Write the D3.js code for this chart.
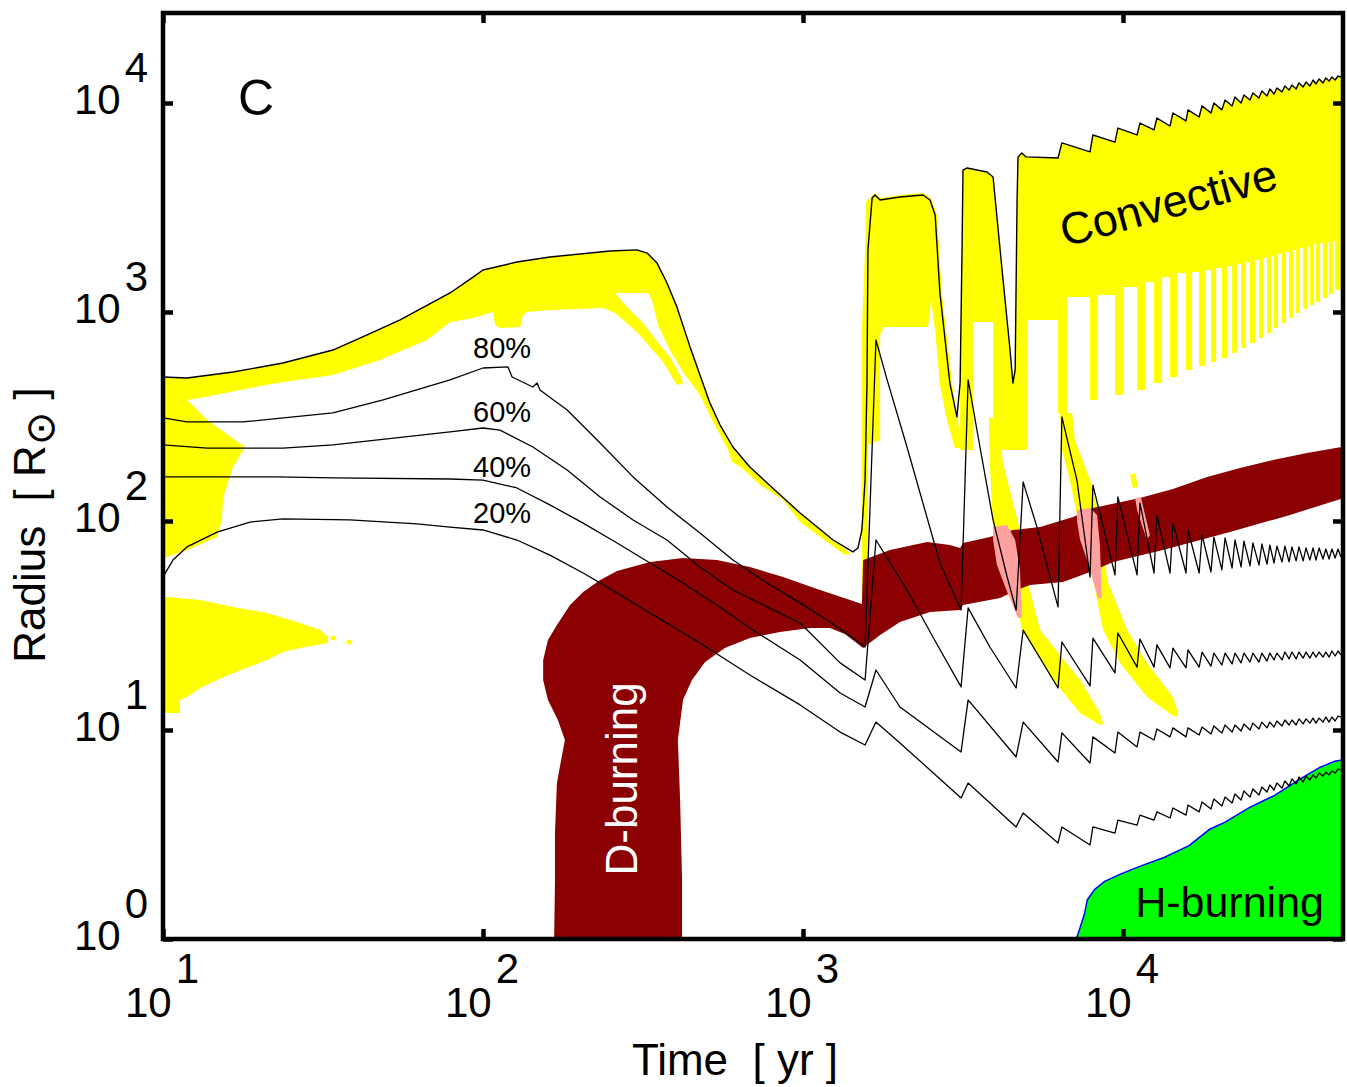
<!DOCTYPE html>
<html>
<head>
<meta charset="utf-8">
<script src="https://cdn.jsdelivr.net/npm/d3@7"></script>
<style>
  body { margin: 0; background: #fff; }
  svg { display: block; }
  text { font-family: "Liberation Sans", Arial, Helvetica, sans-serif; fill: #000; white-space: pre; }
</style>
</head>
<body>
<svg id="chart" width="1347" height="1087"></svg>
<script>
// All shape values are [log10(time / yr), log10(radius / R_sun)].

// Axis decades (exponents of the tick labels)
const xTickExps = [1, 2, 3, 4];
const yTickExps = [0, 1, 2, 3, 4];

// Accretion bursts: onset and peak-response times
const burstOnsetLogT = [3.194, 3.494, 3.666, 3.797, 3.897, 3.975, 4.044, 4.097, 4.147, 4.197, 4.238, 4.275, 4.309, 4.341, 4.369, 4.397, 4.425, 4.450, 4.472, 4.497, 4.519, 4.541, 4.563, 4.584, 4.603, 4.625, 4.644, 4.663];
const burstPeakLogT  = [3.228, 3.516, 3.688, 3.809, 3.906, 3.984, 4.053, 4.106, 4.156, 4.203, 4.247, 4.284, 4.319, 4.350, 4.378, 4.406, 4.434, 4.459, 4.481, 4.506, 4.528, 4.550, 4.572, 4.594, 4.613, 4.634, 4.653, 4.672];
const endLogT = 4.681;

// Stellar surface radius
const surfaceEarly = [[1.000,2.689],[1.075,2.684],[1.219,2.713],[1.375,2.756],[1.531,2.818],[1.638,2.890],[1.741,2.962],[1.897,3.091],[1.969,3.167],[2.000,3.201],[2.106,3.239],[2.209,3.263],[2.397,3.292],[2.481,3.297],[2.513,3.282],[2.544,3.234],[2.575,3.139],[2.606,3.024],[2.647,2.833],[2.678,2.699],[2.709,2.565],[2.741,2.459],[2.781,2.354],[2.834,2.258],[2.888,2.182],[2.991,2.038],[3.094,1.909],[3.156,1.852],[3.172,1.871],[3.184,1.957],[3.194,2.196],[3.200,2.660],[3.203,3.297],[3.216,3.545],[3.225,3.560],[3.241,3.536],[3.303,3.550],[3.375,3.560],[3.397,3.536],[3.413,3.464],[3.428,3.091],[3.459,2.660],[3.481,2.498],[3.491,2.660],[3.497,3.297],[3.500,3.679],[3.513,3.689],[3.575,3.670],[3.594,3.646],[3.616,3.297],[3.647,2.818],[3.656,2.660],[3.663,2.722],[3.669,3.536],[3.672,3.742],[3.684,3.761],[3.697,3.742]];
const surfacePre  = [3.737, 3.766, 3.813, 3.847, 3.871, 3.890, 3.914, 3.933, 3.952, 3.967, 3.986, 4.000, 4.014, 4.024, 4.033, 4.043, 4.053, 4.062, 4.067, 4.077, 4.081, 4.091, 4.096, 4.105, 4.110];
const surfacePeak = [3.809, 3.847, 3.880, 3.904, 3.928, 3.952, 3.967, 3.986, 4.000, 4.014, 4.029, 4.038, 4.048, 4.057, 4.067, 4.072, 4.081, 4.086, 4.096, 4.100, 4.110, 4.115, 4.120, 4.124, 4.129];
const surfaceEnd = 4.124;

// Mass shells (80%, 60%, 40%, 20% of the stellar mass)
const shell80Early = [[1.000,2.493],[1.075,2.474],[1.250,2.474],[1.531,2.517],[1.688,2.579],[1.897,2.675],[2.000,2.732],[2.078,2.737],[2.091,2.689],[2.156,2.641],[2.169,2.660],[2.178,2.627],[2.263,2.531],[2.366,2.373],[2.469,2.211],[2.575,2.067],[2.678,1.943],[2.781,1.813],[2.888,1.703],[2.991,1.608],[3.075,1.526],[3.147,1.450]];
const shell80Pre  = [1.397, 1.574, 1.574, 1.589, 1.732, 1.742, 1.742, 1.751, 1.751, 1.751, 1.751, 1.756, 1.766, 1.775, 1.780, 1.785, 1.789, 1.794, 1.799, 1.804, 1.804, 1.809, 1.809, 1.813, 1.813, 1.818, 1.818, 1.823];
const shell80Peak = [2.866, 2.675, 2.187, 2.498, 2.172, 2.115, 2.086, 2.029, 1.990, 1.957, 1.933, 1.923, 1.919, 1.909, 1.904, 1.895, 1.890, 1.885, 1.880, 1.880, 1.876, 1.876, 1.871, 1.871, 1.871, 1.866, 1.866, 1.866];
const shell80Decay = {0: [[3.262,2.680],[3.325,2.354],[3.428,1.799]], 1: [[3.553,2.354],[3.594,2.005],[3.638,1.732]], 2: [[3.731,1.971]], 3: [[3.856,2.196]]};
const shell80End = 1.828;

const shell60Early = [[1.000,2.364],[1.138,2.349],[1.375,2.349],[1.531,2.364],[1.897,2.426],[2.000,2.445],[2.053,2.435],[2.156,2.354],[2.263,2.244],[2.366,2.115],[2.469,2.005],[2.575,1.909],[2.678,1.780],[2.781,1.670],[2.888,1.589],[2.991,1.512],[3.116,1.321]];
const shell60Pre  = [1.239, 1.206, 1.201, 1.201, 1.211, 1.273, 1.301, 1.301, 1.297, 1.297, 1.301, 1.306, 1.311, 1.316, 1.321, 1.325, 1.325, 1.330, 1.335, 1.335, 1.340, 1.340, 1.344, 1.344, 1.349, 1.349, 1.349, 1.354];
const shell60Peak = [1.909, 1.584, 1.478, 1.421, 1.440, 1.464, 1.435, 1.407, 1.392, 1.383, 1.373, 1.368, 1.368, 1.368, 1.368, 1.368, 1.368, 1.368, 1.368, 1.373, 1.373, 1.373, 1.373, 1.373, 1.373, 1.373, 1.378, 1.378];
const shell60Decay = {0: [[3.325,1.670],[3.406,1.445]], 1: [[3.584,1.397]]};
const shell60End = 1.359;

const shell40Early = [[1.000,2.211],[1.356,2.211],[1.531,2.206],[1.897,2.201],[2.000,2.196],[2.106,2.158],[2.209,2.077],[2.313,1.990],[2.419,1.895],[2.522,1.799],[2.625,1.703],[2.731,1.598],[2.834,1.488],[2.991,1.335],[3.116,1.177]];
const shell40Pre  = [1.110, 0.895, 0.871, 0.847, 0.842, 0.890, 0.919, 0.952, 0.967, 0.967, 0.976, 0.981, 0.986, 0.990, 0.995, 1.000, 1.005, 1.010, 1.014, 1.019, 1.024, 1.024, 1.029, 1.033, 1.033, 1.038, 1.038, 1.043];
const shell40Peak = [1.287, 1.144, 1.038, 0.986, 0.967, 0.990, 0.990, 1.005, 1.010, 1.010, 1.014, 1.019, 1.024, 1.024, 1.029, 1.033, 1.038, 1.038, 1.043, 1.048, 1.048, 1.053, 1.053, 1.057, 1.057, 1.062, 1.062, 1.067];
const shell40Decay = {0: [[3.303,1.110]]};
const shell40End = 1.062;

const shell20Early = [[1.000,1.732],[1.031,1.813],[1.075,1.876],[1.169,1.947],[1.272,1.995],[1.375,2.010],[1.584,2.005],[1.794,1.986],[1.897,1.971],[2.000,1.957],[2.106,1.909],[2.209,1.837],[2.313,1.751],[2.419,1.656],[2.522,1.560],[2.678,1.416],[2.834,1.263],[2.991,1.120],[3.116,0.990]];
const shell20Pre  = [0.928, 0.675, 0.536, 0.459, 0.450, 0.507, 0.545, 0.569, 0.579, 0.593, 0.608, 0.622, 0.636, 0.651, 0.665, 0.679, 0.689, 0.703, 0.713, 0.722, 0.732, 0.742, 0.751, 0.761, 0.770, 0.780, 0.785, 0.794];
const shell20Peak = [1.038, 0.746, 0.603, 0.536, 0.536, 0.569, 0.593, 0.608, 0.627, 0.641, 0.656, 0.670, 0.679, 0.694, 0.708, 0.718, 0.727, 0.737, 0.746, 0.756, 0.766, 0.775, 0.780, 0.785, 0.794, 0.799, 0.804, 0.813];
const shell20Decay = {0: [[3.303,0.938]]};
const shell20End = 0.809;

const shellLabels = ["80%", "60%", "40%", "20%"];
const shellLabelPos = [[1.969,2.780],[1.969,2.474],[1.969,2.211],[1.969,1.990]];

// Convective zones
const convEarlyAccretion = [[1.000,2.689],[1.075,2.684],[1.219,2.713],[1.375,2.756],[1.531,2.818],[1.638,2.890],[1.741,2.962],[1.897,3.091],[1.969,3.167],[2.000,3.201],[2.106,3.239],[2.209,3.263],[2.397,3.292],[2.481,3.297],[2.513,3.282],[2.544,3.234],[2.575,3.139],[2.606,3.024],[2.647,2.833],[2.678,2.699],[2.709,2.565],[2.741,2.459],[2.781,2.354],[2.834,2.258],[2.888,2.182],[2.991,2.038],[3.094,1.909],[3.150,1.845],
  [3.131,1.837],[2.991,1.995],[2.938,2.100],[2.866,2.172],[2.809,2.254],[2.778,2.282],[2.766,2.340],[2.716,2.483],[2.678,2.603],[2.625,2.713],[2.584,2.818],[2.547,2.938],[2.528,3.057],[2.516,3.091],[2.413,3.091],
  [2.444,3.033],[2.500,2.947],[2.553,2.842],[2.584,2.785],[2.616,2.699],[2.625,2.660],
  [2.606,2.651],[2.563,2.761],[2.481,2.904],[2.413,2.995],[2.375,3.019],
  [2.209,3.010],[2.138,3.000],[2.125,2.986],[2.116,2.928],[2.053,2.923],[2.038,2.938],[2.031,3.000],[1.969,2.971],[1.897,2.952],[1.825,2.866],[1.678,2.770],[1.531,2.699],[1.356,2.660],[1.241,2.627],[1.116,2.589],[1.075,2.579],
  [1.138,2.483],[1.256,2.354],[1.219,2.258],[1.188,2.115],[1.184,2.005],[1.169,1.923],[1.075,1.861],[1.013,1.828],[1.000,1.828]];
const convCore = [[1.000,1.636],[1.013,1.636],[1.116,1.622],[1.219,1.589],[1.325,1.560],[1.428,1.512],[1.491,1.478],[1.516,1.445],[1.516,1.416],[1.428,1.392],[1.375,1.373],[1.325,1.335],[1.219,1.273],[1.169,1.239],[1.116,1.201],[1.075,1.158],[1.053,1.144],[1.053,1.081],[1.013,1.081],[1.000,1.081]];
const convCoreDrops = [[1.531,1.440],[1.581,1.421]];
const convBurst1 = [[3.184,1.574],[3.184,2.914],[3.194,3.297],[3.197,3.526],[3.216,3.555],[3.225,3.569],[3.241,3.545],[3.303,3.560],[3.375,3.569],[3.400,3.545],[3.419,3.464],[3.434,3.091],[3.466,2.660],[3.484,2.483],[3.494,2.349],[3.475,2.349],[3.450,2.483],[3.428,2.651],[3.413,2.914],[3.400,3.057],[3.391,2.928],[3.253,2.928],[3.241,2.890],[3.241,2.388],[3.203,2.364],[3.203,1.574]];
const convEnvelopeBase = [[3.491,2.340],[3.531,2.340],[3.531,2.952],[3.594,2.952],[3.594,2.340],[3.700,2.340],[3.700,2.962],[3.794,2.962]];
const convStripEndLogT = [3.825, 3.919, 4.000, 4.069, 4.122, 4.169, 4.216, 4.256, 4.291, 4.325, 4.356, 4.384, 4.413, 4.438, 4.463, 4.484, 4.509, 4.531, 4.553, 4.575, 4.597, 4.616, 4.638, 4.656, 4.700];
const convStripBottom  = [2.517, 2.579, 2.603, 2.627, 2.660, 2.689, 2.722, 2.742, 2.761, 2.780, 2.804, 2.828, 2.852, 2.876, 2.900, 2.923, 2.947, 2.971, 2.995, 3.014, 3.033, 3.048, 3.067, 3.086, 3.105];
const convFingerTop    = [3.072, 3.081, 3.120, 3.144, 3.167, 3.187, 3.191, 3.201, 3.211, 3.220, 3.230, 3.239, 3.249, 3.258, 3.268, 3.278, 3.287, 3.297, 3.306, 3.316, 3.325, 3.330, 3.335, 3.340, 3.344];
const convStreak1 = [[3.581,2.493],[3.584,2.278],[3.594,1.957],[3.631,1.789],[3.656,1.718],[3.684,1.478],[3.781,1.239],[3.866,1.081],[3.928,1.024],[3.938,1.029],[3.928,1.081],[3.866,1.239],[3.741,1.478],[3.700,1.718],[3.678,1.957],[3.625,2.278],[3.609,2.493]];
const convStreak2 = [[3.803,2.517],[3.809,2.340],[3.834,2.196],[3.866,1.957],[3.906,1.718],[3.938,1.478],[3.991,1.321],[4.075,1.158],[4.153,1.072],[4.169,1.062],[4.172,1.086],[4.156,1.158],[4.075,1.321],[4.013,1.478],[3.950,1.718],[3.938,1.957],[3.897,2.196],[3.850,2.388],[3.841,2.517]];
const convDash = [[4.022,2.220],[4.038,2.230],[4.047,2.163],[4.031,2.158]];

// Deuterium-burning zone
const dBurning = [[2.222,-0.03],[2.225,0.282],[2.225,0.507],[2.231,0.746],[2.247,0.880],[2.256,0.952],[2.234,1.048],[2.203,1.144],[2.188,1.239],[2.188,1.335],[2.203,1.431],[2.231,1.502],[2.272,1.598],[2.313,1.660],[2.366,1.718],[2.419,1.761],[2.522,1.804],[2.625,1.823],[2.731,1.813],[2.834,1.780],[2.938,1.732],[3.044,1.675],[3.147,1.622],[3.184,1.603],
  [3.188,1.813],[3.272,1.861],[3.388,1.900],[3.459,1.885],[3.491,1.871],[3.500,1.895],[3.584,1.923],[3.656,1.957],[3.741,1.971],[3.844,2.019],[3.906,2.062],[4.053,2.110],[4.156,2.153],[4.263,2.211],[4.366,2.254],[4.469,2.292],[4.575,2.325],[4.700,2.358],
  [4.700,2.115],[4.522,2.029],[4.334,1.947],[4.125,1.861],[3.969,1.804],[3.897,1.756],[3.813,1.708],[3.709,1.694],[3.669,1.670],[3.616,1.632],[3.500,1.598],[3.491,1.574],[3.397,1.565],[3.303,1.517],[3.241,1.455],[3.188,1.392],
  [3.131,1.459],[3.084,1.488],[3.022,1.488],[2.928,1.469],[2.834,1.440],[2.756,1.392],[2.694,1.325],[2.653,1.239],[2.625,1.144],[2.609,0.952],[2.616,0.665],[2.622,0.282],[2.622,-0.03]];
// Overlap of convection and D-burning
const dBurningConvective = [
  [[3.594,1.971],[3.638,1.981],[3.663,1.909],[3.678,1.766],[3.684,1.536],[3.672,1.536],[3.638,1.660],[3.606,1.789],[3.594,1.909]],
  [[3.856,2.053],[3.897,2.062],[3.919,2.029],[3.928,1.885],[3.934,1.632],[3.922,1.632],[3.906,1.718],[3.888,1.813],[3.866,1.909],[3.856,2.005]],
  [[4.038,2.110],[4.056,2.115],[4.069,2.029],[4.084,1.933],[4.075,1.909],[4.059,1.981],[4.044,2.053]]
];

// Hydrogen-burning zone (upper boundary)
const hBurningTop = [[3.850,-0.03],[3.866,0.043],[3.881,0.115],[3.891,0.187],[3.913,0.234],[3.944,0.273],[3.991,0.306],[4.053,0.344],[4.131,0.388],[4.209,0.445],[4.272,0.522],[4.319,0.555],[4.397,0.627],[4.475,0.684],[4.553,0.761],[4.616,0.818],[4.663,0.847],[4.700,0.858]];

// ---------------------------------------------------------------
const plot = { left: 163, right: 1343, top: 13, bottom: 939 };
const x = d3.scaleLog().domain([10, 48700]).range([plot.left, plot.right]);
const y = d3.scaleLog().domain([1, 26950]).range([plot.bottom, plot.top]);
const px = lt => x(Math.pow(10, lt));
const py = lr => y(Math.pow(10, lr));
const line = d3.line().x(d => px(d[0])).y(d => py(d[1]));
const closed = pts => line(pts) + "Z";

function trackWithBursts(early, pre, peak, end, decay, first) {
  const pts = early.slice();
  for (let i = first; i < burstOnsetLogT.length; i++) {
    const k = i - first;
    pts.push([burstOnsetLogT[i], pre[k]]);
    pts.push([burstPeakLogT[i], peak[k]]);
    if (decay && decay[i]) pts.push(...decay[i]);
  }
  pts.push([endLogT, end]);
  return pts;
}

const surface = trackWithBursts(surfaceEarly, surfacePre, surfacePeak, surfaceEnd, null, 3);
const shells = [
  trackWithBursts(shell80Early, shell80Pre, shell80Peak, shell80End, shell80Decay, 0),
  trackWithBursts(shell60Early, shell60Pre, shell60Peak, shell60End, shell60Decay, 0),
  trackWithBursts(shell40Early, shell40Pre, shell40Peak, shell40End, shell40Decay, 0),
  trackWithBursts(shell20Early, shell20Pre, shell20Peak, shell20End, shell20Decay, 0)
];

// Convective envelope after the second burst: comb of deep strips below the surface
const envBottom = convEnvelopeBase.slice();
let level = convEnvelopeBase[convEnvelopeBase.length - 1][1];
convStripEndLogT.forEach((te, k) => {
  const tOn = burstOnsetLogT[k + 3];
  envBottom.push([tOn, level], [tOn, convStripBottom[k]], [te, convStripBottom[k]], [te, convFingerTop[k]]);
  level = convFingerTop[k];
});
const envTop = surface.filter(p => p[0] >= 3.491).reverse();
const convEnvelope = envBottom.concat([[4.700, surfaceEnd]], envTop);

const svg = d3.select("#chart");
svg.append("rect").attr("width", 1347).attr("height", 1087).attr("fill", "#fff");
svg.append("defs").append("clipPath").attr("id", "plotClip")
  .append("rect").attr("x", plot.left).attr("y", plot.top)
  .attr("width", plot.right - plot.left).attr("height", plot.bottom - plot.top);

const g = svg.append("g").attr("clip-path", "url(#plotClip)");

const YELLOW = "#ffff00", DRED = "#8b0000", PINK = "#ffa0a0", GREEN = "#00ff00", BLUE = "#0000ff";

// convective regions
[convEarlyAccretion, convCore, convBurst1, convEnvelope, convStreak1, convStreak2, convDash].forEach(p => {
  g.append("path").attr("d", closed(p)).attr("fill", YELLOW);
});
g.selectAll("circle.drop").data(convCoreDrops).join("circle").attr("class", "drop")
  .attr("cx", d => px(d[0])).attr("cy", d => py(d[1])).attr("r", 2.5).attr("fill", YELLOW);

// D-burning
g.append("path").attr("d", closed(dBurning)).attr("fill", DRED);
dBurningConvective.forEach(p => g.append("path").attr("d", closed(p)).attr("fill", PINK));

// H-burning
const hPoly = hBurningTop.concat([[4.700, -0.05], [3.850, -0.05]]);
g.append("path").attr("d", line(hBurningTop)).attr("fill", "none").attr("stroke", BLUE).attr("stroke-width", 3);
g.append("path").attr("d", closed(hPoly)).attr("fill", GREEN);

// mass shells and surface
shells.forEach(s => g.append("path").attr("d", line(s)).attr("fill", "none")
  .attr("stroke", "#000").attr("stroke-width", 1.3).attr("stroke-linejoin", "round"));
g.append("path").attr("d", line(surface)).attr("fill", "none")
  .attr("stroke", "#000").attr("stroke-width", 1.4).attr("stroke-linejoin", "round");

// region labels
g.selectAll("text.shell").data(shellLabels).join("text").attr("class", "shell")
  .attr("x", (d, i) => px(shellLabelPos[i][0])).attr("y", (d, i) => py(shellLabelPos[i][1]))
  .attr("font-size", 29).text(d => d);

g.append("text").attr("x", px(1.234)).attr("y", py(3.943)).attr("font-size", 50).text("C");

g.append("text")
  .attr("transform", `translate(${px(3.819)},${py(3.311)}) rotate(-15.3)`)
  .attr("font-size", 45).text("Convective");

g.append("text")
  .attr("transform", `translate(${px(2.481)},${py(0.766)}) rotate(-90)`)
  .attr("text-anchor", "middle").attr("font-size", 44).style("fill", "#fff").text("D-burning");

g.append("text").attr("x", px(4.038)).attr("y", py(0.105)).attr("font-size", 43).text("H-burning");

// axes: inward ticks on all four sides
const xVals = xTickExps.map(e => Math.pow(10, e));
const yVals = yTickExps.map(e => Math.pow(10, e));
const ax = svg.append("g");
ax.append("g").attr("transform", `translate(0,${plot.bottom})`)
  .call(d3.axisBottom(x).tickValues(xVals).tickSizeInner(-10).tickSizeOuter(0).tickFormat(""));
ax.append("g").attr("transform", `translate(0,${plot.top})`)
  .call(d3.axisTop(x).tickValues(xVals).tickSizeInner(-10).tickSizeOuter(0).tickFormat(""));
ax.append("g").attr("transform", `translate(${plot.left},0)`)
  .call(d3.axisLeft(y).tickValues(yVals).tickSizeInner(-10).tickSizeOuter(0).tickFormat(""));
ax.append("g").attr("transform", `translate(${plot.right},0)`)
  .call(d3.axisRight(y).tickValues(yVals).tickSizeInner(-10).tickSizeOuter(0).tickFormat(""));
ax.selectAll(".domain").attr("stroke", "none");
ax.selectAll(".tick line").attr("stroke", "#000").attr("stroke-width", 4.5);
ax.append("rect").attr("x", plot.left).attr("y", plot.top)
  .attr("width", plot.right - plot.left).attr("height", plot.bottom - plot.top)
  .attr("fill", "none").attr("stroke", "#000").attr("stroke-width", 4.5);

// tick labels as powers of ten
svg.append("g").selectAll("text").data(xTickExps).join("text")
  .attr("x", d => x(Math.pow(10, d)) - 1).attr("y", plot.bottom + 78)
  .attr("text-anchor", "middle").attr("font-size", 42)
  .each(function (d) {
    const t = d3.select(this);
    t.append("tspan").text("10");
    t.append("tspan").attr("dx", 4).attr("dy", -34).text(d);
  });
svg.append("g").selectAll("text").data(yTickExps).join("text")
  .attr("x", 148).attr("y", d => y(Math.pow(10, d)) + 11)
  .attr("text-anchor", "end").attr("font-size", 42)
  .each(function (d) {
    const t = d3.select(this);
    t.append("tspan").text("10");
    t.append("tspan").attr("dx", 4).attr("dy", -32).text(d);
  });

// axis titles
svg.append("text").attr("x", 735).attr("y", 1075).attr("text-anchor", "middle")
  .attr("font-size", 44).text("Time  [ yr ]");
const yt = svg.append("text").attr("transform", "translate(45,525) rotate(-90)")
  .attr("text-anchor", "middle").attr("font-size", 44);
yt.append("tspan").text("Radius  [ R");
yt.append("tspan").attr("dy", 9).attr("font-size", 40).style("font-family", "DejaVu Sans").text("\u2299");
yt.append("tspan").attr("dy", -9).text(" ]");
</script>
</body>
</html>
